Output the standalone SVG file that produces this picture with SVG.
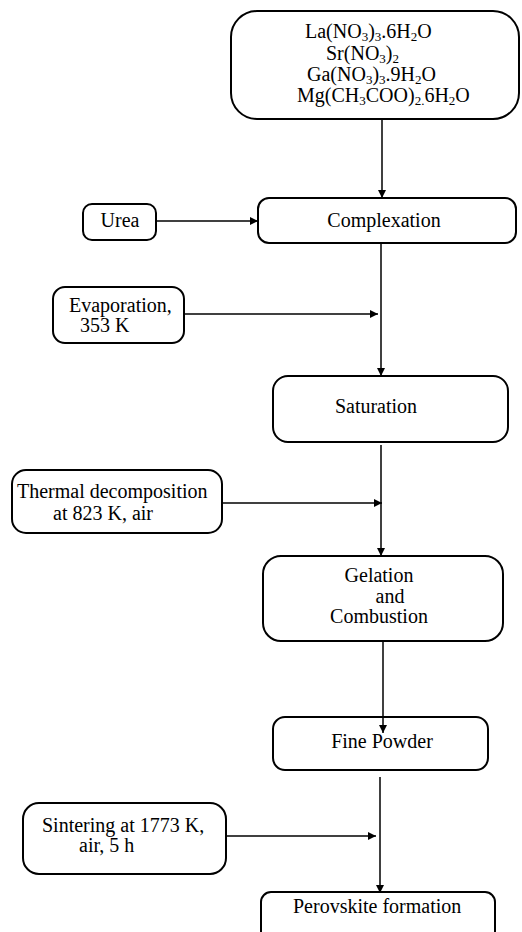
<svg xmlns="http://www.w3.org/2000/svg" width="522" height="932" viewBox="0 0 522 932">
<defs>
<marker id="ah" markerWidth="9" markerHeight="9" refX="8" refY="4.5" orient="auto" markerUnits="userSpaceOnUse">
<path d="M0,0.5 L8,4.5 L0,8.5 Z" fill="#000"/>
</marker>
<style>
.box{fill:#fff;stroke:#000;stroke-width:2}
.t{font-family:"Liberation Serif","Times New Roman",serif;font-size:20px;fill:#000}
.s{font-size:13px}
.c{text-anchor:middle}
.ln{stroke:#000;stroke-width:1.5;fill:none}
</style>
</defs>
<rect width="522" height="932" fill="#fff"/>
<g id="precursors">
<rect class="box" x="231" y="11" width="288" height="108" rx="26"/>
<text class="t" x="305" y="38">La(NO<tspan class="s" dy="3">3</tspan><tspan dy="-3">)</tspan><tspan class="s" dy="3">3</tspan><tspan dy="-3">.6H</tspan><tspan class="s" dy="3">2</tspan><tspan dy="-3">O</tspan></text>
<text class="t" x="326" y="60">Sr(NO<tspan class="s" dy="3">3</tspan><tspan dy="-3">)</tspan><tspan class="s" dy="3">2</tspan></text>
<text class="t" x="307" y="81">Ga(NO<tspan class="s" dy="3">3</tspan><tspan dy="-3">)</tspan><tspan class="s" dy="3">3</tspan><tspan dy="-3">.9H</tspan><tspan class="s" dy="3">2</tspan><tspan dy="-3">O</tspan></text>
<text class="t" x="297" y="102">Mg(CH<tspan class="s" dy="3">3</tspan><tspan dy="-3">COO)</tspan><tspan class="s" dy="3">2.</tspan><tspan dy="-3">6H</tspan><tspan class="s" dy="3">2</tspan><tspan dy="-3">O</tspan></text>
</g>
<g id="urea">
<rect class="box" x="83" y="204" width="73" height="36" rx="9"/>
<text class="t c" x="120" y="227">Urea</text>
</g>
<g id="complexation">
<rect class="box" x="258" y="198" width="258" height="45" rx="11"/>
<text class="t c" x="384" y="227">Complexation</text>
</g>
<g id="evaporation">
<rect class="box" x="53" y="287" width="131" height="56" rx="12"/>
<text class="t" x="69" y="312">Evaporation,</text>
<text class="t" x="80" y="332">353 K</text>
</g>
<g id="saturation">
<rect class="box" x="273" y="376" width="235" height="66" rx="15"/>
<text class="t c" x="376" y="413">Saturation</text>
</g>
<g id="thermal">
<rect class="box" x="12" y="470" width="210" height="63" rx="14"/>
<text class="t" x="17" y="498">Thermal decomposition</text>
<text class="t" x="53" y="520">at 823 K, air</text>
</g>
<g id="gelation">
<rect class="box" x="263" y="556" width="240" height="85" rx="18"/>
<text class="t c" x="379" y="582">Gelation</text>
<text class="t c" x="390" y="603">and</text>
<text class="t c" x="379" y="623">Combustion</text>
</g>
<g id="fine-powder">
<rect class="box" x="273" y="717" width="215" height="53" rx="12"/>
<text class="t c" x="382" y="748">Fine Powder</text>
</g>
<g id="sintering">
<rect class="box" x="23" y="803" width="203" height="71" rx="16"/>
<text class="t" x="42" y="832">Sintering at 1773 K,</text>
<text class="t" x="79" y="852">air, 5 h</text>
</g>
<g id="perovskite">
<rect class="box" x="261" y="892" width="234" height="50" rx="10"/>
<text class="t" x="293" y="913">Perovskite formation</text>
</g>
<g id="connectors">
<line class="ln" x1="382" y1="120" x2="382" y2="198" marker-end="url(#ah)"/>
<line class="ln" x1="157" y1="221" x2="258" y2="221" marker-end="url(#ah)"/>
<line class="ln" x1="381" y1="244" x2="381" y2="376" marker-end="url(#ah)"/>
<line class="ln" x1="185" y1="314" x2="378" y2="314" marker-end="url(#ah)"/>
<line class="ln" x1="381" y1="445" x2="381" y2="556" marker-end="url(#ah)"/>
<line class="ln" x1="223" y1="503" x2="382" y2="503" marker-end="url(#ah)"/>
<line class="ln" x1="383" y1="642" x2="383" y2="733" marker-end="url(#ah)"/>
<line class="ln" x1="380" y1="777" x2="380" y2="893" marker-end="url(#ah)"/>
<line class="ln" x1="227" y1="836" x2="376" y2="836" marker-end="url(#ah)"/>
</g>
</svg>
